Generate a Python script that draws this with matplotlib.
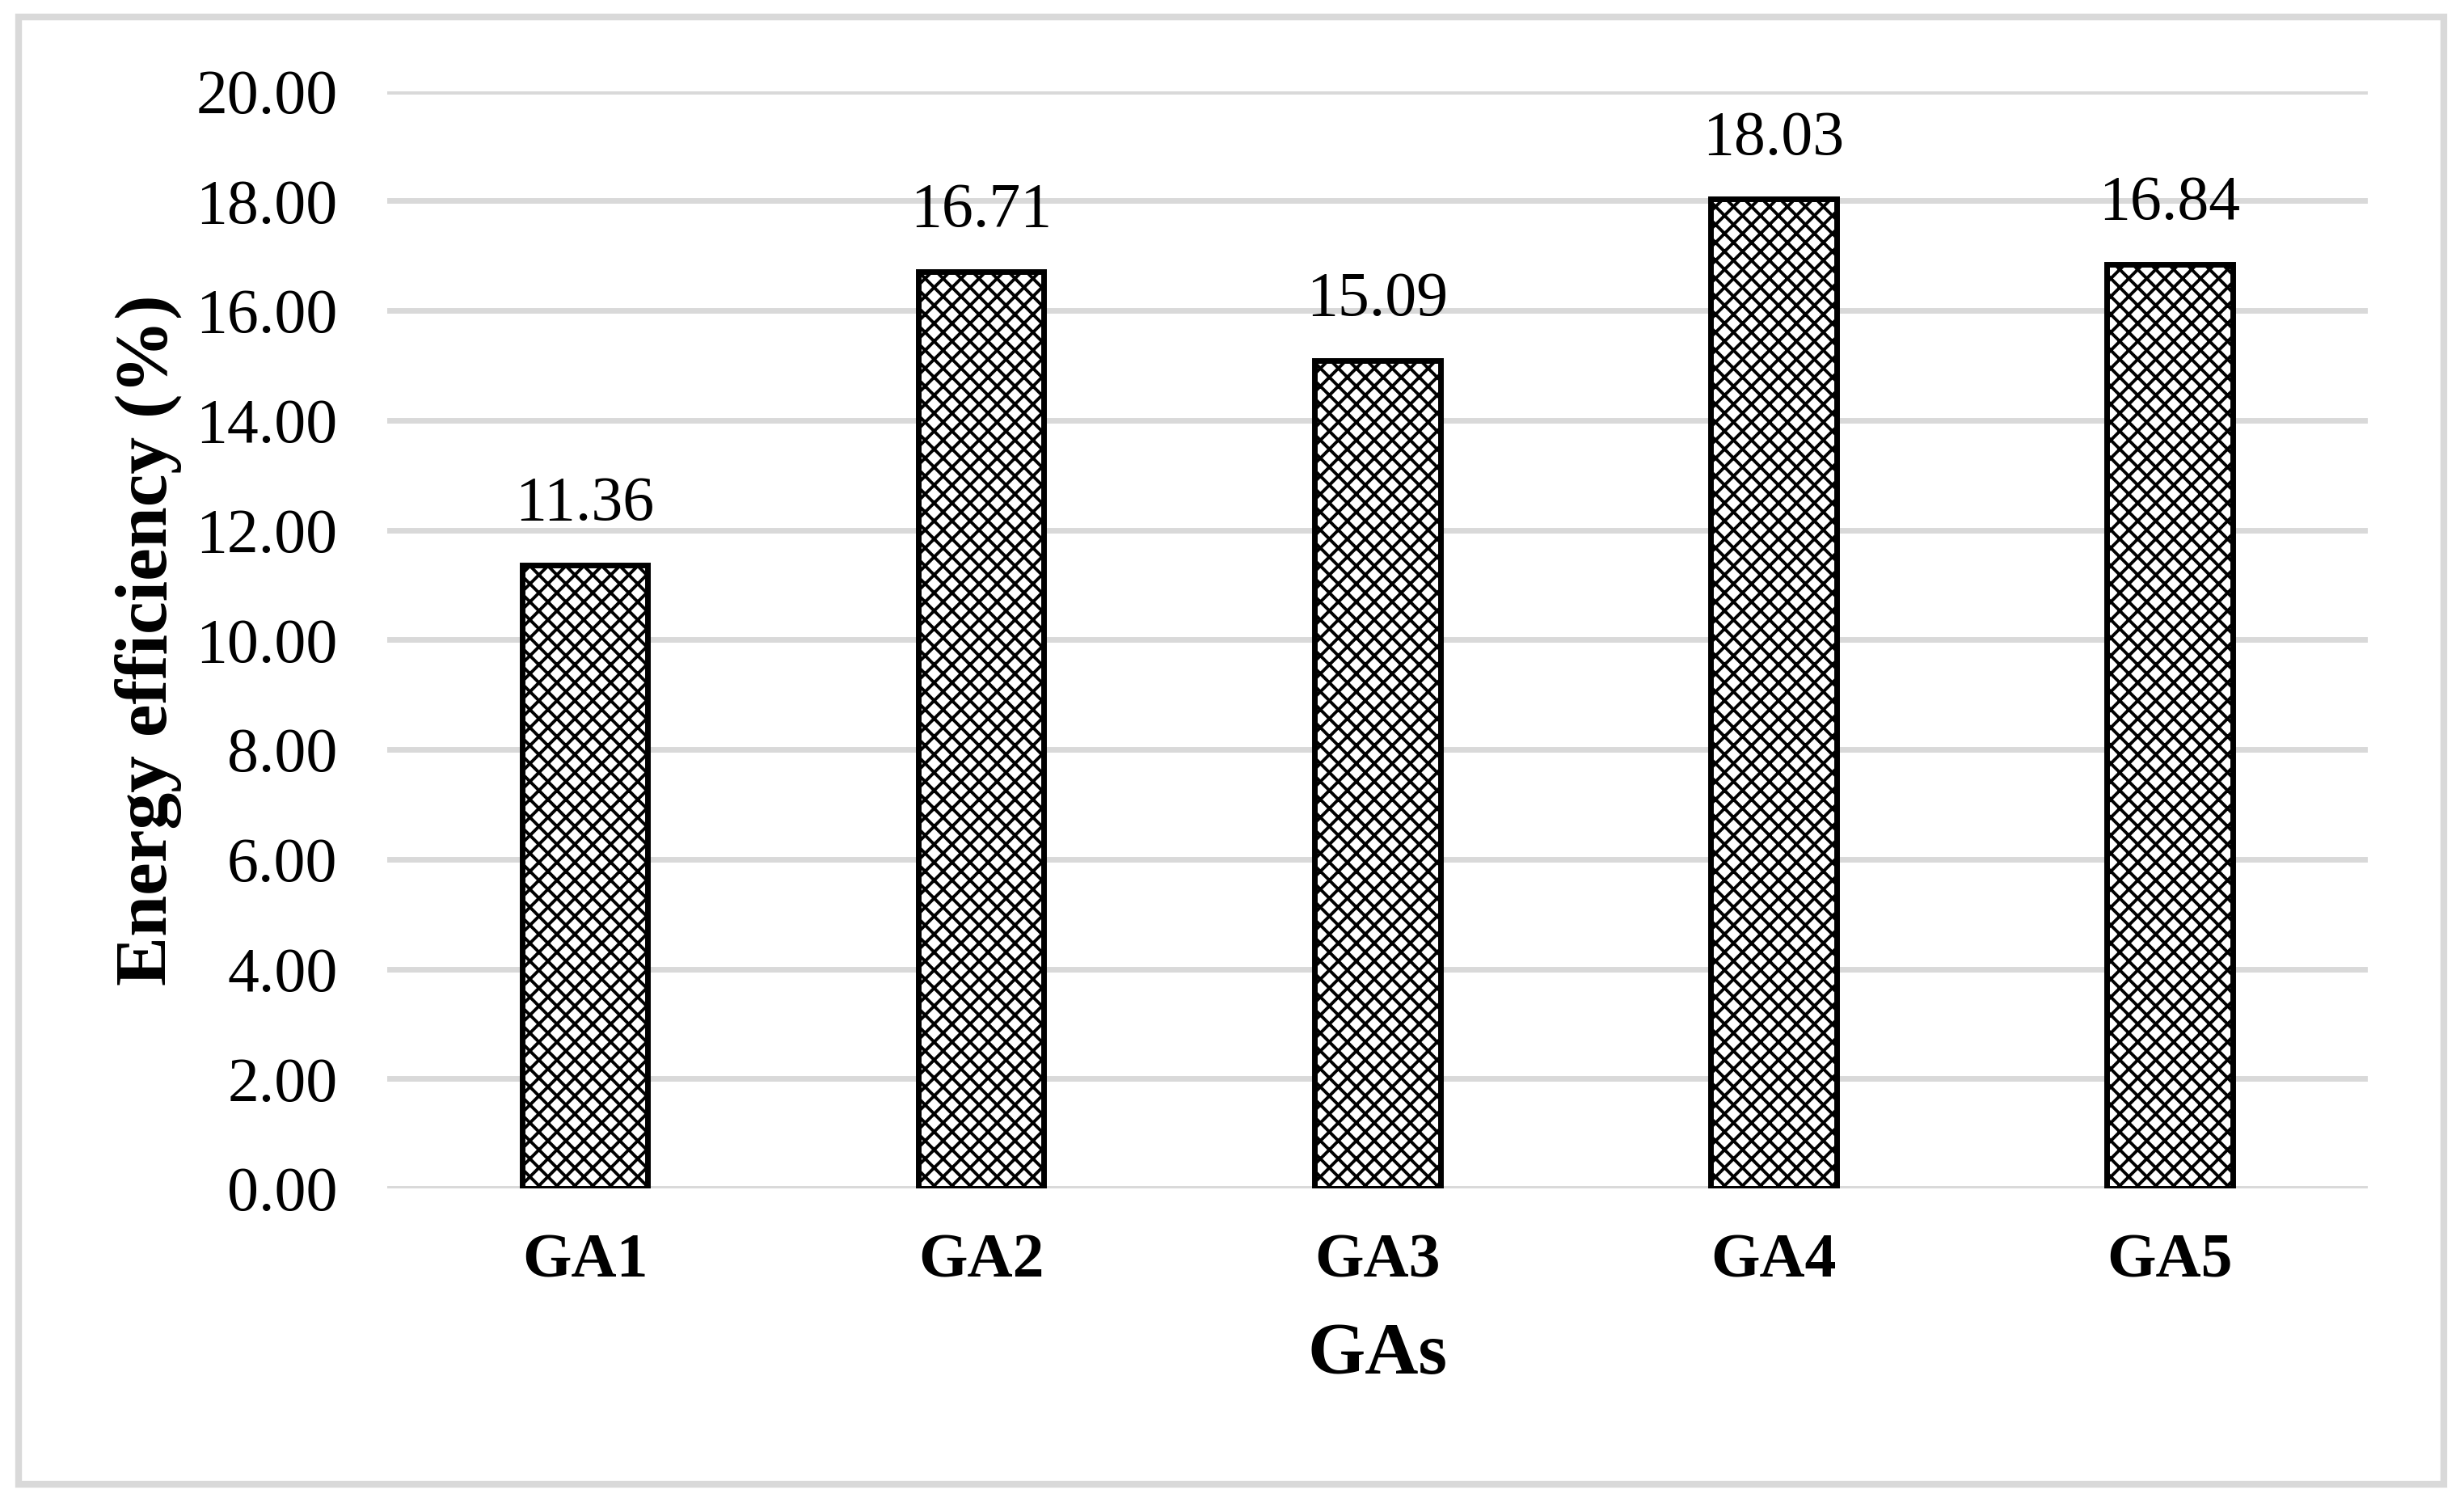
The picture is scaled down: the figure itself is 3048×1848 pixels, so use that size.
import numpy as np
import matplotlib
matplotlib.use("Agg")
import matplotlib.pyplot as plt
from matplotlib.patches import Rectangle

# data
groups = ["GA1", "GA2", "GA3", "GA4", "GA5"]
efficiency = [11.36, 16.71, 15.09, 18.03, 16.84]
y_ticks = [0, 2, 4, 6, 8, 10, 12, 14, 16, 18, 20]

plt.rcParams['font.family'] = ['Liberation Serif', 'DejaVu Serif']
plt.rcParams['hatch.linewidth'] = 1.4
plt.rcParams['hatch.color'] = 'black'

fig = plt.figure(figsize=(15.24, 9.24), dpi=200)
ax = fig.add_axes([0.157, 0.2045, 0.804, 0.7345])

x = np.arange(len(groups))
bars = ax.bar(x, efficiency, width=0.317, color='white', edgecolor='black',
              linewidth=2.5, hatch='xxx', zorder=3)

# value labels above bars
for xi, v in zip(x, efficiency):
    ax.annotate("%.2f" % v, xy=(xi, v), xytext=(0, 14), textcoords='offset points',
                ha='center', va='bottom', fontsize=28)

ax.set_ylim(0, 20)
ax.set_xlim(-0.5, len(groups) - 0.5)
ax.set_yticks(y_ticks)
ax.set_yticklabels(["%.2f" % t for t in y_ticks], fontsize=28)
ax.set_xticks(x)
ax.set_xticklabels(groups, fontsize=28, fontweight='bold')
ax.tick_params(axis='both', length=0)
ax.tick_params(axis='y', pad=22)
ax.tick_params(axis='x', pad=20)

ax.grid(axis='y', color='#d9d9d9', linewidth=2.5, zorder=0)
ax.set_axisbelow(True)
for s in ax.spines.values():
    s.set_visible(False)

ax.set_xlabel("GAs", fontsize=33, fontweight='bold', labelpad=14)
ax.set_ylabel("Energy efficiency (%)", fontsize=33, fontweight='bold', labelpad=6)

# grey frame round the whole chart
fig.patches.append(Rectangle((23 / 3048, 1 - 1836 / 1848), (3023 - 23) / 3048, (1836 - 21) / 1848,
                             transform=fig.transFigure, fill=False,
                             edgecolor='#d9d9d9', linewidth=3))

fig.savefig("out.png", dpi=200, facecolor='white')
